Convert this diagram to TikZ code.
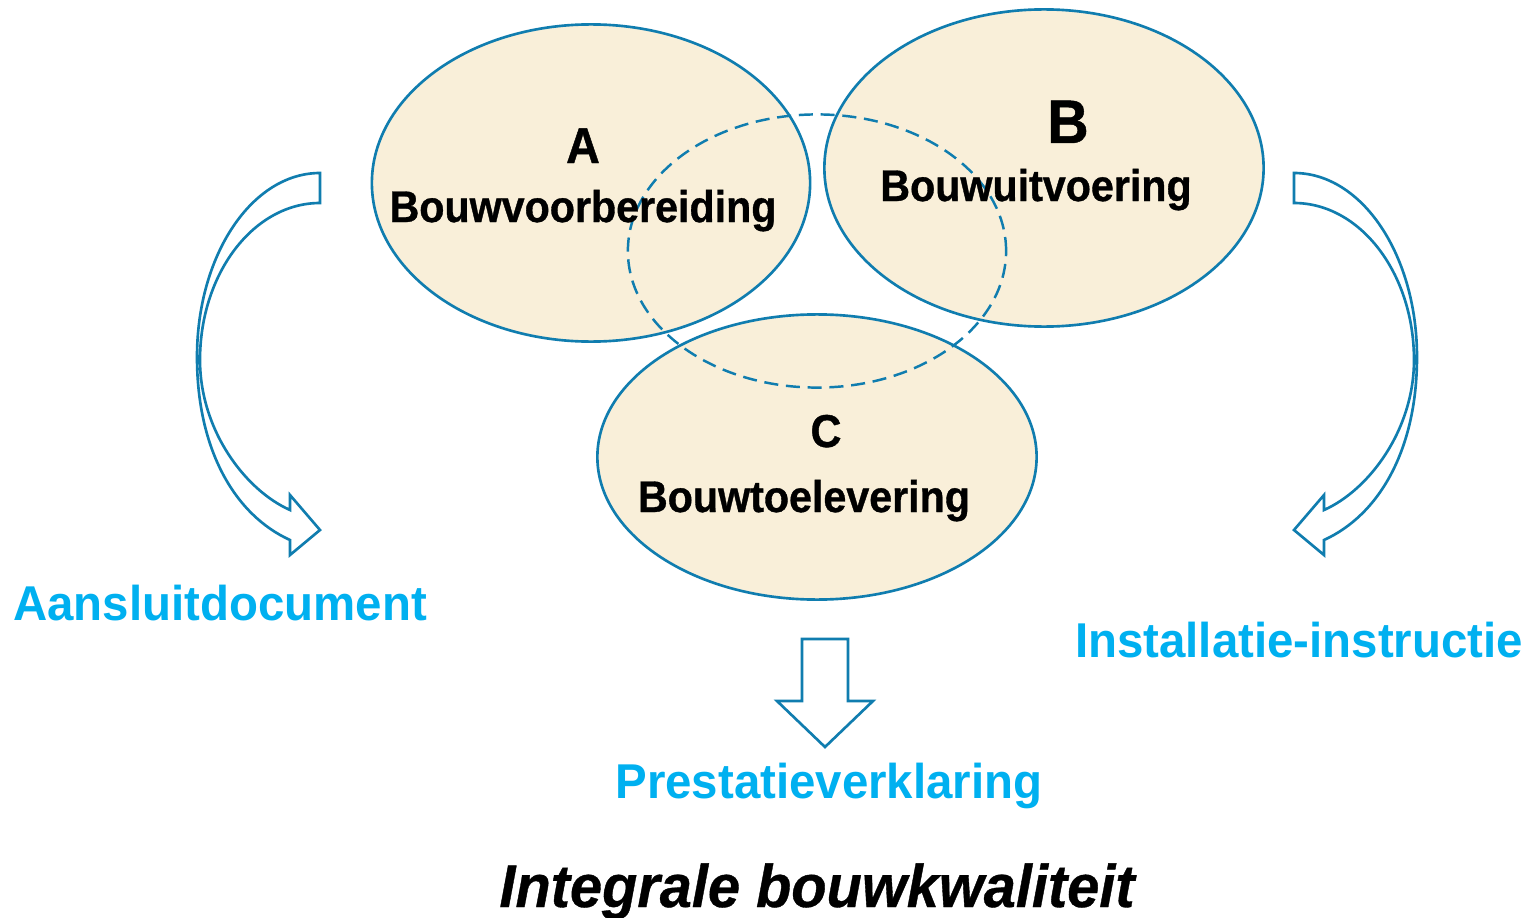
\documentclass[tikz,border=0pt]{standalone}
\usepackage{fontspec}
\setmainfont{Liberation Sans}
\newfontfamily\narrowfont[FakeStretch=0.93,FakeBold=0.8]{Liberation Sans}
\newfontfamily\bluefont[FakeStretch=0.97]{Liberation Sans}
\newfontfamily\titlefont[FakeStretch=0.96,FakeBold=0.6]{Liberation Sans}
\usetikzlibrary{shapes.geometric}
\definecolor{edge}{RGB}{16,125,175}
\definecolor{paper}{RGB}{249,239,217}
\definecolor{labelblue}{RGB}{0,176,240}
\begin{document}
\begin{tikzpicture}[x=0.01cm,y=-0.01cm,
  circ/.style={ellipse, draw=edge, line width=0.75pt, fill=paper, inner sep=0pt},
  dashring/.style={ellipse, draw=edge, line width=0.7pt, dash pattern=on 4pt off 2.2pt, inner sep=0pt},
  arrowshape/.style={draw=edge, line width=0.75pt, fill=white, line join=miter},
  letterlbl/.style={anchor=base, inner sep=0pt, font=\narrowfont\bfseries},
  wordlbl/.style={anchor=base, inner sep=0pt, font=\narrowfont\bfseries\fontsize{12.6}{15}\selectfont},
  bluelbl/.style={anchor=base, inner sep=0pt, text=labelblue, font=\bluefont\bfseries\fontsize{13.9}{16}\selectfont}
]
\useasboundingbox (0,0) rectangle (1532,918);
\fill[white] (0,0) rectangle (1532,918);

% ellipses
\node[circ, minimum width=4.38cm, minimum height=3.17cm] (ea) at (591,183) {};
\node[circ, minimum width=4.39cm, minimum height=3.17cm] (eb) at (1044,168) {};
\node[circ, minimum width=4.39cm, minimum height=2.85cm] (ec) at (817,457) {};
\node[dashring, minimum width=3.78cm, minimum height=2.73cm] (ed) at (817,251) {};

% left curved arrow
\draw[arrowshape] (320,173) .. controls (252,173) and (197,255) .. (197,357)
  .. controls (197,450) and (235,515) .. (290,540) -- (290,555) -- (320,530)
  -- (290,495) -- (290,510) .. controls (245,490) and (200,430) .. (200,360)
  .. controls (200,273) and (254,203) .. (320,203) -- cycle;

% right curved arrow
\draw[arrowshape] (1294,173) .. controls (1362,173) and (1417,255) .. (1417,357)
  .. controls (1417,450) and (1379,515) .. (1324,540) -- (1324,555) -- (1294,530)
  -- (1324,495) -- (1324,510) .. controls (1369,490) and (1414,430) .. (1414,360)
  .. controls (1414,273) and (1360,203) .. (1294,203) -- cycle;

% down arrow
\draw[arrowshape] (802,639) -- (848,639) -- (848,701) -- (873,701) -- (825,747)
  -- (777,701) -- (802,701) -- cycle;

% texts
\node[letterlbl, font=\narrowfont\bfseries\fontsize{14.3}{16}\selectfont] (ta) at (583,163) {A};
\node[wordlbl] (wa) at (583,222) {Bouwvoorbereiding};
\node[letterlbl, font=\narrowfont\bfseries\fontsize{17.5}{20}\selectfont] (tb) at (1068,143) {B};
\node[wordlbl] (wb) at (1036,201) {Bouwuitvoering};
\node[letterlbl, font=\narrowfont\bfseries\fontsize{13.1}{15}\selectfont] (tc) at (826,447) {C};
\node[wordlbl] (wc) at (804,512) {Bouwtoelevering};

\node[bluelbl] (aans) at (220,620) {Aansluitdocument};
\node[bluelbl] (inst) at (1299,657) {Installatie-instructie};
\node[bluelbl] (pres) at (829,798) {Prestatieverklaring};

\node[anchor=base, inner sep=0pt, font=\titlefont\bfseries\itshape\fontsize{17.1}{20}\selectfont] (title) at (817,907) {Integrale bouwkwaliteit};
\end{tikzpicture}
\end{document}
